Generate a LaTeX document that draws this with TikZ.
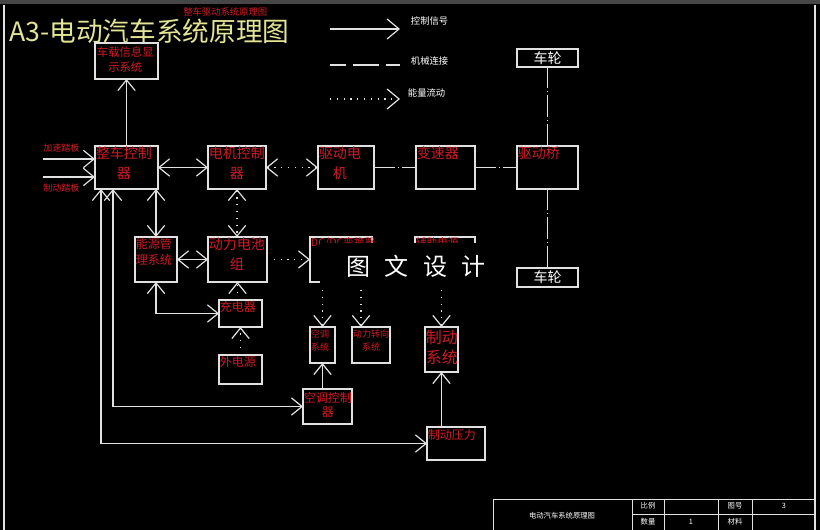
\documentclass[tikz,border=0pt]{standalone}
\usepackage{fontspec}
\setmainfont{Noto Sans CJK SC}
\usetikzlibrary{arrows.meta,calc}
\definecolor{rd}{RGB}{205,28,36}
\definecolor{ln}{RGB}{225,225,225}
\definecolor{yl}{RGB}{228,228,150}
\tikzset{
 box/.style={draw=ln, line width=0.9pt, anchor=north west, inner sep=0pt, outer sep=0pt},
 lab/.style={text=rd, anchor=north west, align=center, inner sep=0.5pt},
 wtxt/.style={text=white, inner sep=0.5pt},
 ctrl/.style={draw=ln, line width=0.9pt},
 energy/.style={draw=ln, line width=0.9pt, dash pattern=on 0.9pt off 4.2pt},
 mech/.style={draw=ln, line width=0.9pt, dash pattern=on 16pt off 2.2pt on 0.8pt off 2.2pt},
 >={Straight Barb[length=8pt,width=13pt]},
}
\newcommand\bx[5]{\node[box, minimum width={(#4-#2)*0.75pt}, minimum height={(#5-#3)*0.75pt}] (#1) at (#2,#3) {};}
\begin{document}
\begin{tikzpicture}[x=0.75pt,y=-0.75pt]
\useasboundingbox (0,0) rectangle (820,530);
\fill[black] (0,0) rectangle (820,530);
\fill[gray!55!black] (0,0) rectangle (820,4);
\draw[ln, line width=0.8pt] (4,5) -- (4,530);
\draw[ln, line width=0.8pt] (815,5) -- (815,530);

% title
\node[text=yl, font=\fontsize{20}{20}\selectfont, anchor=west, inner sep=0pt] (title) at (9,31) {A3-电动汽车系统原理图};
\node[text=rd, font=\fontsize{7}{7}\selectfont, anchor=west, inner sep=0pt] (subt) at (183,12) {整车驱动系统原理图};

% legend
\coordinate (l1a) at (330,29); \coordinate (l1b) at (400,29);
\draw[ctrl,->,>={Straight Barb[length=9pt,width=15pt]}] (l1a) -- (l1b);
\node[wtxt, font=\fontsize{7}{7}\selectfont, anchor=west] (lt1) at (410,21) {控制信号};
\coordinate (l2a) at (330,65); \coordinate (l2b) at (400,65);
\draw[draw=ln, line width=0.9pt, dash pattern=on 19.5pt off 5.25pt, dash phase=7.5pt] (l2a) -- (l2b);
\node[wtxt, font=\fontsize{7}{7}\selectfont, anchor=west] (lt2) at (410,61) {机械连接};
\coordinate (l3a) at (330,99); \coordinate (l3b) at (400,99);
\draw[energy,->,>={Straight Barb[length=9pt,width=15pt]}] (l3a) -- (l3b);
\node[wtxt, font=\fontsize{7}{7}\selectfont, anchor=west] (lt3) at (407,93) {能量流动};

% boxes
\bx{info}{95}{43}{158}{79}
\bx{wheelT}{517}{49}{578}{67}
\bx{wheelB}{517}{268}{578}{287}
\bx{vcu}{95}{146}{158}{189}
\bx{mcu}{208}{146}{266}{189}
\bx{motor}{318}{146}{374}{189}
\bx{gear}{416}{146}{475}{189}
\bx{axle}{517}{146}{578}{189}
\bx{ems}{135}{237}{177}{282}
\bx{batt}{208}{237}{267}{282}
\bx{dcdc}{310}{237}{372}{282}
\bx{aux}{415}{237}{475}{282}
\bx{charger}{219}{300}{262}{327}
\bx{ext}{219}{355}{262}{384}
\bx{ac}{310}{327}{335}{363}
\bx{steer}{352}{327}{390}{363}
\bx{brake}{425}{327}{458}{372}
\bx{acc}{303}{389}{352}{424}
\bx{bpress}{427}{427}{485}{460}

% box texts
\node[lab, font=\fontsize{8.5}{11}\selectfont] (info-t) at ($(info.north west)+(1,3)$) {车载信息显\\示系统};
\node[wtxt, font=\fontsize{10.5}{10.5}\selectfont] (wheelT-t) at (wheelT.center) {车轮};
\node[wtxt, font=\fontsize{10.5}{10.5}\selectfont] (wheelB-t) at (wheelB.center) {车轮};
\node[lab, font=\fontsize{10.5}{15}\selectfont] (vcu-t) at (vcu.north west) {整车控制\\器};
\node[lab, font=\fontsize{10.5}{15}\selectfont] (mcu-t) at (mcu.north west) {电机控制\\器};
\node[lab, font=\fontsize{10.5}{15}\selectfont] (motor-t) at (motor.north west) {驱动电\\机};
\node[lab, font=\fontsize{10.5}{15}\selectfont] (gear-t) at (gear.north west) {变速器};
\node[lab, font=\fontsize{10.5}{15}\selectfont] (axle-t) at (axle.north west) {驱动桥};
\node[lab, font=\fontsize{9}{12}\selectfont] (ems-t) at (ems.north west) {能源管\\理系统};
\node[lab, font=\fontsize{10.5}{15}\selectfont] (batt-t) at (batt.north west) {动力电池\\组};
\node[lab, font=\fontsize{8}{10}\selectfont] (dcdc-t) at (dcdc.north west) {DC/DC变换器};
\node[lab, font=\fontsize{8}{10}\selectfont] (aux-t) at (aux.north west) {辅助电源};
\node[lab, font=\fontsize{9}{12}\selectfont] (charger-t) at (charger.north west) {充电器};
\node[lab, font=\fontsize{9}{12}\selectfont] (ext-t) at (ext.north west) {外电源};
\node[lab, font=\fontsize{6.8}{10}\selectfont] (ac-t) at ($(ac.north west)+(0,2)$) {空调\\系统};
\node[lab, font=\fontsize{6.8}{10}\selectfont] (steer-t) at ($(steer.north west)+(0,2)$) {动力转向\\系统};
\node[lab, font=\fontsize{12}{15}\selectfont] (brake-t) at ($(brake.north west)+(0,2)$) {制动\\系统};
\node[lab, font=\fontsize{9}{11}\selectfont] (acc-t) at ($(acc.north west)+(0,2)$) {空调控制\\器};
\node[lab, font=\fontsize{9}{11}\selectfont] (bpress-t) at ($(bpress.north west)+(0,2)$) {制动压力};

% pedals
\node[text=rd, font=\fontsize{6.8}{7}\selectfont, anchor=west, inner sep=0pt] (acc-pedal) at (43,148) {加速踏板};
\node[text=rd, font=\fontsize{6.8}{7}\selectfont, anchor=west, inner sep=0pt] (brk-pedal) at (43,188) {制动踏板};
\coordinate (pa) at (43,159); \draw[ctrl,->] (pa) -- (pa -| vcu.west);
\coordinate (pb) at (43,177); \draw[ctrl,->] (pb) -- (pb -| vcu.west);

% connectors
\draw[ctrl,->] (vcu.north) -- (info.south);
\draw[ctrl,<->] (vcu.east) -- (mcu.west);
\draw[energy,<->] (mcu.east) -- (motor.west);
\draw[mech] (motor.east) -- (gear.west);
\draw[mech] (gear.east) -- (axle.west);
\draw[mech] (wheelT.south) -- (axle.north);
\draw[mech] (axle.south) -- (wheelB.north);
\draw[energy,<->] (mcu.south) -- (mcu.south |- batt.north);
\coordinate (v3) at ($(vcu.south west)+(61,0)$);
\draw[ctrl,<->] (v3) -- (v3 |- ems.north);
\draw[ctrl,<->] (ems.east) -- (batt.west);
\draw[energy,->] (batt.east) -- (dcdc.west);
\draw[energy,->] ($(ac.north |- dcdc.south)+(0,8)$) -- (ac.north);
\coordinate (sx) at ($(steer.north west)+(9,0)$);
\draw[energy,->] ($(sx |- dcdc.south)+(0,8)$) -- (sx);
\draw[energy,->] ($(brake.north |- aux.south)+(0,8)$) -- (brake.north);
\draw[ctrl,->] (ac.south |- acc.north) -- (ac.south);
\draw[ctrl,->] (brake.south |- bpress.north) -- (brake.south);
\coordinate (v2) at ($(vcu.south west)+(18,0)$);
\draw[ctrl,<->] (v2) |- (acc.west);
\coordinate (v1) at ($(vcu.south west)+(6,0)$);
\draw[ctrl,<->] (v1) |- (bpress.west);
\draw[ctrl,<->] (v3 |- ems.south) |- (charger.west);
\draw[energy,->] (batt.south |- charger.north) -- (batt.south);
\draw[energy,->] (ext.north) -- (charger.south);

% watermark
\fill[black] (320,243) rectangle (495,285);
\node[text=white, font=\fontsize{18}{18}\selectfont, inner sep=0pt] (wm) at (416,266) {图\hspace{0.6em}文\hspace{0.6em}设\hspace{0.6em}计};

% title block
\draw[ln, line width=0.7pt] (493,499) rectangle (815,532);
\draw[ln, line width=0.7pt] (632,499) -- (632,532) (664,499) -- (664,532) (718,499) -- (718,532) (752,499) -- (752,532);
\draw[ln, line width=0.7pt] (632,514) -- (815,514);
\node[wtxt, font=\fontsize{5.5}{6}\selectfont] (tb-title) at (562,516) {电动汽车系统原理图};
\node[wtxt, font=\fontsize{5.5}{6}\selectfont] (tb-a) at (648,506) {比例};
\node[wtxt, font=\fontsize{5.5}{6}\selectfont] (tb-b) at (735,506) {图号};
\node[wtxt, font=\fontsize{5.5}{6}\selectfont] (tb-c) at (784,506) {3};
\node[wtxt, font=\fontsize{5.5}{6}\selectfont] (tb-d) at (648,522) {数量};
\node[wtxt, font=\fontsize{5.5}{6}\selectfont] (tb-e) at (691,522) {1};
\node[wtxt, font=\fontsize{5.5}{6}\selectfont] (tb-f) at (735,522) {材料};
\end{tikzpicture}
\end{document}
